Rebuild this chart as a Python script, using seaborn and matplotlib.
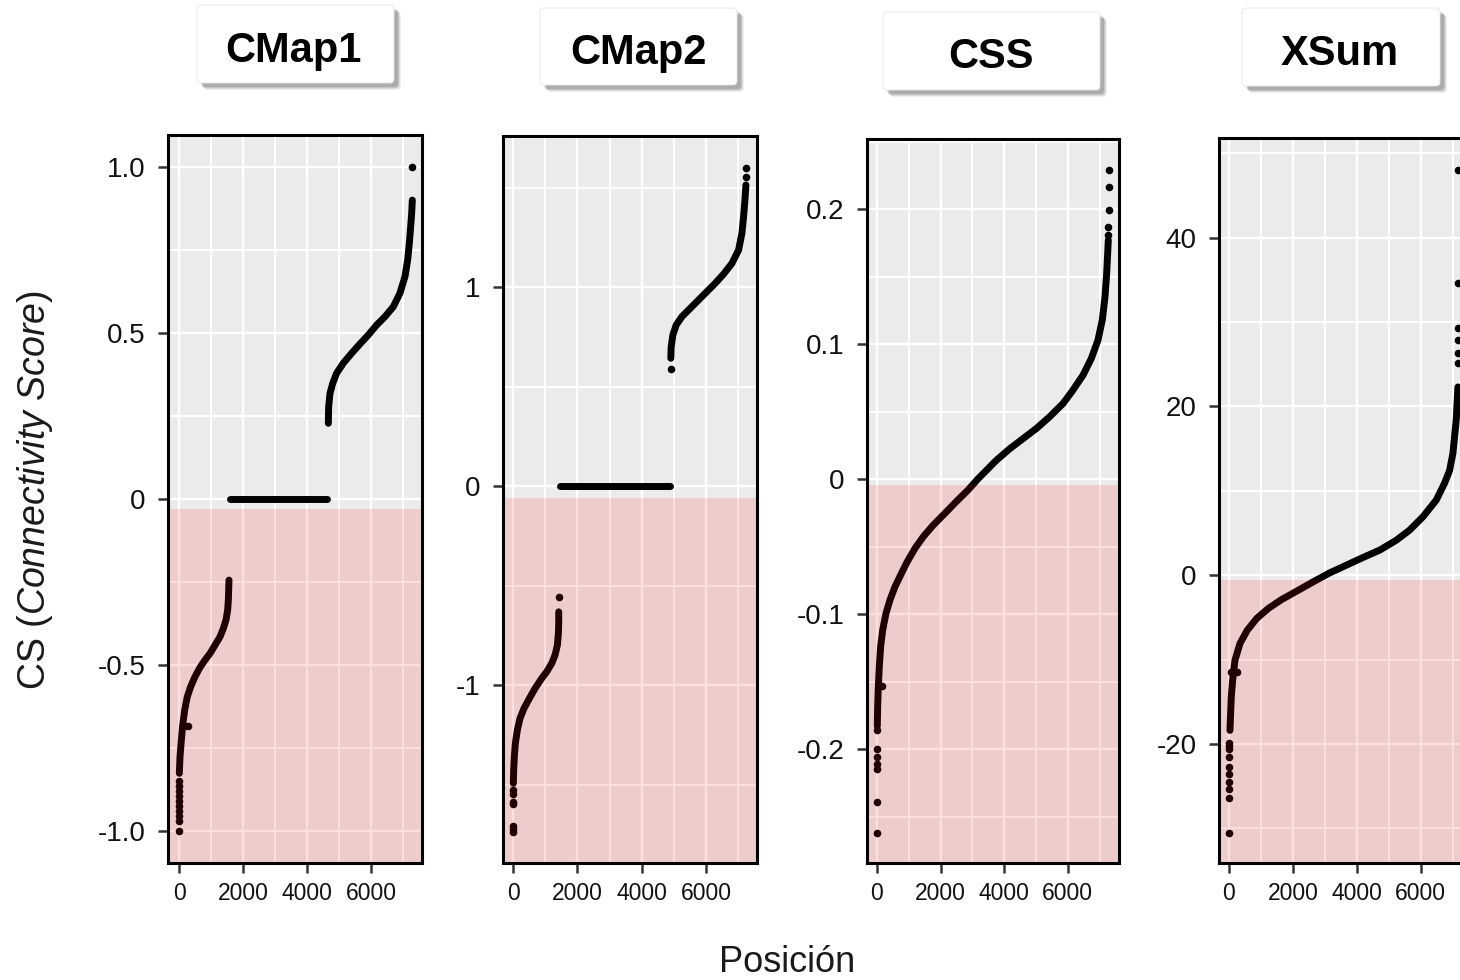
import numpy as np
import pandas as pd
import matplotlib
matplotlib.use("Agg")
import matplotlib.pyplot as plt
from matplotlib.patches import FancyBboxPatch
from matplotlib.transforms import Affine2D
from matplotlib.ticker import FixedLocator, MultipleLocator
import seaborn as sns

# ---------------------------------------------------------------------------
# Sorted connectivity scores per method (position in ranking, CS value)
# ---------------------------------------------------------------------------
methods = ["CMap1", "CMap2", "CSS", "XSum"]

# CMap1
cmap1_neg_pos = [10, 31, 73, 115, 177, 260, 365, 500, 656, 812, 969, 1125, 1281,
                 1385, 1469, 1521, 1542, 1552, 1562]
cmap1_neg_cs = [-0.826, -0.776, -0.726, -0.681, -0.636, -0.595, -0.565, -0.535,
                -0.507, -0.485, -0.465, -0.44, -0.415, -0.39, -0.364, -0.334,
                -0.304, -0.274, -0.244]
cmap1_zero_pos = [1600, 4630]
cmap1_zero_cs = [0.0, 0.0]
cmap1_pos_pos = [4667, 4677, 4719, 4802, 4927, 5135, 5396, 5656, 5917, 6177, 6437,
                 6698, 6906, 7063, 7146, 7198, 7240, 7271, 7292]
cmap1_pos_cs = [0.228, 0.278, 0.318, 0.348, 0.379, 0.409, 0.439, 0.467, 0.494,
                0.524, 0.549, 0.579, 0.62, 0.67, 0.72, 0.77, 0.82, 0.86, 0.90]
cmap1_out_pos = [0, 2, 3, 4, 5, 6, 7, 8, 8, 9, 150, 280, 7292]
cmap1_out_cs = [-1.0, -0.97, -0.955, -0.94, -0.925, -0.91, -0.895, -0.88, -0.865,
                -0.85, -0.684, -0.684, 1.0]

# CMap2
cmap2_neg_pos = [10, 21, 41, 73, 135, 218, 342, 508, 684, 892, 1047, 1203, 1306,
                 1379, 1410, 1420, 1420]
cmap2_neg_cs = [-1.494, -1.427, -1.36, -1.293, -1.226, -1.167, -1.117, -1.067,
                -1.017, -0.966, -0.933, -0.891, -0.849, -0.799, -0.74, -0.69, -0.632]
cmap2_zero_pos = [1462, 4880]
cmap2_zero_cs = [0.0, 0.0]
cmap2_pos_pos = [4903, 4914, 4966, 5069, 5246, 5505, 5764, 6023, 6282, 6541, 6801,
                 7008, 7111, 7163, 7205, 7236]
cmap2_pos_cs = [0.642, 0.70, 0.759, 0.809, 0.851, 0.893, 0.935, 0.977, 1.019,
                1.065, 1.119, 1.186, 1.27, 1.353, 1.437, 1.513]
cmap2_out_pos = [0, 3, 6, 4, 7, 9, 11, 1420, 4903, 7236, 7236]
cmap2_out_cs = [-1.74, -1.725, -1.71, -1.60, -1.585, -1.545, -1.525, -0.556,
                0.586, 1.554, 1.60]

# CSS
css_pos = [10, 21, 42, 73, 115, 178, 283, 408, 565, 743, 952, 1193, 1455, 1769,
           2135, 2502, 2868, 3170, 3758, 4176, 4595, 5014, 5432, 5851,
           6165, 6479, 6741, 6950, 7086, 7170, 7222, 7253, 7274]
css_cs = [-0.183, -0.169, -0.154, -0.139, -0.124, -0.112, -0.0995, -0.0896,
          -0.0798, -0.0711, -0.0612, -0.0514, -0.0427, -0.0341, -0.0254, -0.0165,
          -0.0080, 0.0, 0.0140, 0.0225, 0.030, 0.0375, 0.0462, 0.056,
          0.066, 0.077, 0.0894, 0.103, 0.118, 0.135, 0.152, 0.167, 0.177]
css_out_pos = [0, 0, 2, 3, 4, 5, 8, 147, 7276, 7278, 7280, 7282, 7284]
css_out_cs = [-0.262, -0.239, -0.215, -0.211, -0.206, -0.200, -0.186, -0.153,
              0.181, 0.187, 0.199, 0.2165, 0.229]

# XSum
xsum_pos = [31, 52, 73, 115, 188, 344, 573, 865, 1229, 1646, 2115, 2635, 3156,
            3677, 4198, 4719, 5240, 5656, 6073, 6490, 6750, 6906, 7010, 7115, 7167]
xsum_cs = [-18.39, -16.4, -14.4, -12.46, -10.08, -8.1, -6.52, -5.14, -3.95, -2.89,
           -1.9, -0.79, 0.28, 1.19, 2.1, 2.97, 4.15, 5.34, 6.92, 8.9, 10.9, 12.4,
           14.4, 18.4, 22.3]
xsum_out_pos = [0, 0, 0, 0, 0, 0, 0, 3, 5, 8, 60, 250, 7170, 7172, 7174, 7176,
                7178, 7180]
xsum_out_cs = [-30.6, -26.4, -25.3, -24.5, -23.6, -22.7, -21.5, -20.6, -20.2, -19.9,
               -11.5, -11.5, 25.1, 26.3, 27.9, 29.3, 34.6, 48.0]

# tick values and labels
x_ticks = [0, 2000, 4000, 6000]
x_tick_labels = ["0", "2000", "4000", "6000"]
y_ticks = {
    "CMap1": [-1.0, -0.5, 0.0, 0.5, 1.0],
    "CMap2": [-1, 0, 1],
    "CSS": [-0.2, -0.1, 0.0, 0.1, 0.2],
    "XSum": [-20, 0, 20, 40],
}
y_tick_labels = {
    "CMap1": ["-1.0", "-0.5", "0", "0.5", "1.0"],
    "CMap2": ["-1", "0", "1"],
    "CSS": ["-0.2", "-0.1", "0", "0.1", "0.2"],
    "XSum": ["-20", "0", "20", "40"],
}

curves = {
    "CMap1": [(cmap1_neg_pos, cmap1_neg_cs), (cmap1_zero_pos, cmap1_zero_cs),
              (cmap1_pos_pos, cmap1_pos_cs)],
    "CMap2": [(cmap2_neg_pos, cmap2_neg_cs), (cmap2_zero_pos, cmap2_zero_cs),
              (cmap2_pos_pos, cmap2_pos_cs)],
    "CSS": [(css_pos, css_cs)],
    "XSum": [(xsum_pos, xsum_cs)],
}
outliers = {
    "CMap1": (cmap1_out_pos, cmap1_out_cs),
    "CMap2": (cmap2_out_pos, cmap2_out_cs),
    "CSS": (css_out_pos, css_out_cs),
    "XSum": (xsum_out_pos, xsum_out_cs),
}

# ---------------------------------------------------------------------------
# Layout (pixels, top-left origin) and axis ranges
# ---------------------------------------------------------------------------
W, H = 1460, 980
layout = {
    "CMap1": dict(rect=(168, 135, 422, 863), xlim=(-344, 7594), ylim=(-1.096, 1.096),
                  minor=0.25, pink_top=-0.030,
                  box=(197, 5, 394, 83), text_xy=(293, 62)),
    "CMap2": dict(rect=(503, 136, 757, 863), xlim=(-311, 7580), ylim=(-1.894, 1.759),
                  minor=0.5, pink_top=-0.06,
                  box=(540, 8, 737, 85), text_xy=(638, 64)),
    "CSS": dict(rect=(867, 139, 1119, 863), xlim=(-314, 7610), ylim=(-0.2844, 0.2519),
                minor=0.05, pink_top=-0.0044,
                box=(883, 12, 1100, 90), text_xy=(991, 68)),
    "XSum": dict(rect=(1219, 138, 1473, 863), xlim=(-312, 7640), ylim=(-34.1, 51.8),
                 minor=10, pink_top=-0.59,
                 box=(1242, 8, 1440, 86), text_xy=(1340, 65)),
}

sns.set_theme(style="darkgrid")
plt.rcParams["font.family"] = ["Liberation Sans", "DejaVu Sans"]
plt.rcParams["mathtext.fontset"] = "custom"
plt.rcParams["mathtext.rm"] = "Liberation Sans"
plt.rcParams["mathtext.it"] = "Liberation Sans:italic"

fig = plt.figure(figsize=(W / 100, H / 100), dpi=100)
fig.patch.set_facecolor("white")
px = Affine2D().scale(1 / W, 1 / H) + fig.transFigure

for name in methods:
    spec = layout[name]
    l, t, r, b = spec["rect"]
    ax = fig.add_axes([l / W, (H - b) / H, (r - l) / W, (b - t) / H])
    ax.set_facecolor("#EBEBEB")
    ax.set_axisbelow(True)

    for seg_pos, seg_cs in curves[name]:
        seg = pd.DataFrame({"pos": seg_pos, "cs": seg_cs})
        sns.lineplot(data=seg, x="pos", y="cs", sort=False, estimator=None,
                     color="black", linewidth=5.0, solid_capstyle="round",
                     solid_joinstyle="round", ax=ax, zorder=3)
    o_pos, o_cs = outliers[name]
    pts = pd.DataFrame({"pos": o_pos, "cs": o_cs})
    sns.scatterplot(data=pts, x="pos", y="cs", color="black", s=30,
                    linewidth=0, ax=ax, zorder=3)

    ax.set_xlim(*spec["xlim"])
    ax.set_ylim(*spec["ylim"])
    # negative-score zone
    ax.axhspan(spec["ylim"][0], spec["pink_top"], color="#FF0000", alpha=0.13,
               lw=0, zorder=4)

    ax.xaxis.set_major_locator(FixedLocator(x_ticks))
    ax.set_xticklabels(x_tick_labels)
    ax.xaxis.set_minor_locator(MultipleLocator(1000))
    ax.yaxis.set_major_locator(FixedLocator(y_ticks[name]))
    ax.set_yticklabels(y_tick_labels[name])
    ax.yaxis.set_minor_locator(MultipleLocator(spec["minor"]))

    ax.grid(True, which="major", color="white", lw=1.7)
    ax.grid(True, which="minor", color="white", lw=1.4)
    ax.tick_params(axis="both", which="major", length=7, width=1.8,
                   color="#333333", labelcolor="#111111")
    ax.tick_params(axis="y", which="major", labelsize=20, pad=9, left=True)
    ax.tick_params(axis="x", which="major", labelsize=16.5, pad=7, bottom=True)
    ax.tick_params(which="minor", length=0)
    for sp in ax.spines.values():
        sp.set_visible(True)
        sp.set_color("black")
        sp.set_linewidth(2.2)
        sp.set_zorder(6)
    ax.set_xlabel("")
    ax.set_ylabel("")

    # title box with drop shadow
    x0, y0, x1, y1 = spec["box"]
    w, h = x1 - x0, y1 - y0
    for k, a in enumerate([0.08, 0.11, 0.14, 0.17]):
        off = 7 - k
        fig.add_artist(FancyBboxPatch((x0 + off, H - y1 - off), w, h,
                                      boxstyle="round,pad=0,rounding_size=4",
                                      transform=px, fc="#3a3a3a", ec="none",
                                      alpha=a))
    fig.add_artist(FancyBboxPatch((x0, H - y1), w, h,
                                  boxstyle="round,pad=0,rounding_size=4",
                                  transform=px, fc="white", ec="#e6e6e6", lw=0.6))
    tx, ty = spec["text_xy"]
    fig.text(tx / W, 1 - ty / H, name, ha="center", va="baseline",
             fontsize=30, fontweight="bold", color="black")

fig.text(35 / W, 1 - 490 / H, "CS (" + r"$\mathit{Connectivity\ Score}$" + ")",
         rotation=90, ha="center", va="center", fontsize=27, color="#1a1a1a")
fig.text(787 / W, 1 - 962 / H, "Posición", ha="center", va="center",
         fontsize=26, color="#1a1a1a")

fig.savefig("out.png", dpi=100, facecolor="white")
